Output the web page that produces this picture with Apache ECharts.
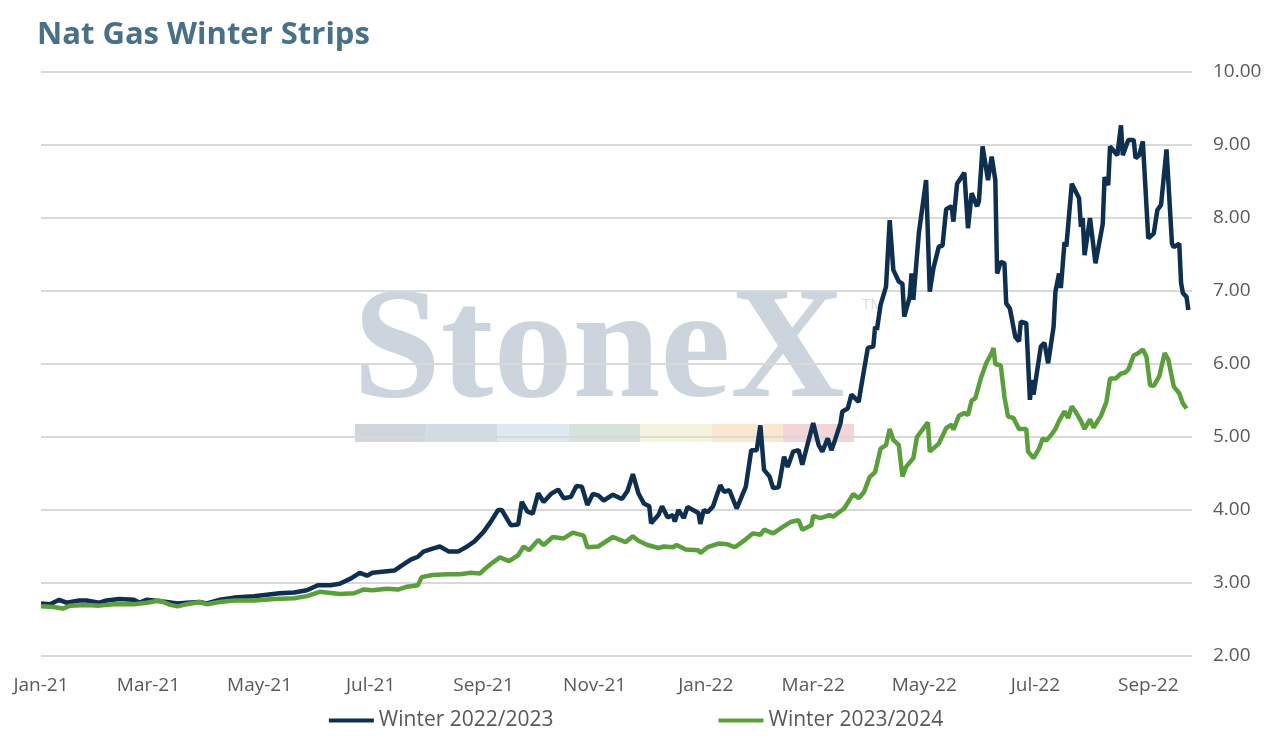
<!DOCTYPE html>
<html>
<head>
<meta charset="utf-8">
<title>Nat Gas Winter Strips</title>
<script src="https://cdn.jsdelivr.net/npm/echarts@6/dist/echarts.min.js"></script>
<style>
  html, body { margin: 0; padding: 0; background: #fff; }
  #chart { width: 1272px; height: 744px; }
</style>
</head>
<body>
<div id="chart"></div>
<script>
// Winter 2022/2023 strip
var w2223Dates = [
  '2021-01-01','2021-01-06','2021-01-11','2021-01-15','2021-01-22','2021-01-26','2021-02-02','2021-02-06','2021-02-13','2021-02-21',
  '2021-02-24','2021-02-28','2021-03-04','2021-03-11','2021-03-17','2021-03-22','2021-03-29','2021-04-02','2021-04-09','2021-04-17',
  '2021-04-28','2021-05-05','2021-05-12','2021-05-20','2021-05-27','2021-06-02','2021-06-03','2021-06-09','2021-06-14','2021-06-20',
  '2021-06-25','2021-06-29','2021-07-02','2021-07-10','2021-07-14','2021-07-17','2021-07-23','2021-07-27','2021-07-30','2021-08-04',
  '2021-08-08','2021-08-13','2021-08-18','2021-08-23','2021-08-27','2021-09-01','2021-09-05','2021-09-09','2021-09-11','2021-09-16',
  '2021-09-20','2021-09-22','2021-09-25','2021-09-28','2021-10-01','2021-10-04','2021-10-08','2021-10-12','2021-10-15','2021-10-19',
  '2021-10-22','2021-10-25','2021-10-28','2021-10-31','2021-11-03','2021-11-06','2021-11-11','2021-11-16','2021-11-19','2021-11-22',
  '2021-11-25','2021-11-28','2021-12-01','2021-12-02','2021-12-06','2021-12-08','2021-12-11','2021-12-14','2021-12-15','2021-12-17',
  '2021-12-20','2021-12-22','2021-12-25','2021-12-28','2021-12-29','2021-12-31','2022-01-02','2022-01-05','2022-01-09','2022-01-11',
  '2022-01-14','2022-01-18','2022-01-23','2022-01-26','2022-01-29','2022-01-31','2022-02-02','2022-02-05','2022-02-07','2022-02-10',
  '2022-02-13','2022-02-15','2022-02-18','2022-02-21','2022-02-23','2022-02-26','2022-03-01','2022-03-04','2022-03-06','2022-03-09',
  '2022-03-11','2022-03-13','2022-03-16','2022-03-17','2022-03-20','2022-03-22','2022-03-26','2022-03-27','2022-03-31','2022-04-03',
  '2022-04-04','2022-04-05','2022-04-07','2022-04-10','2022-04-12','2022-04-14','2022-04-17','2022-04-19','2022-04-20','2022-04-23',
  '2022-04-24','2022-04-25','2022-04-28','2022-05-02','2022-05-04','2022-05-06','2022-05-09','2022-05-11','2022-05-13','2022-05-16',
  '2022-05-17','2022-05-19','2022-05-23','2022-05-25','2022-05-27','2022-05-30','2022-05-31','2022-06-02','2022-06-05','2022-06-07',
  '2022-06-09','2022-06-10','2022-06-12','2022-06-14','2022-06-15','2022-06-17','2022-06-20','2022-06-22','2022-06-23','2022-06-26',
  '2022-06-28','2022-06-29','2022-06-30','2022-07-04','2022-07-06','2022-07-08','2022-07-11','2022-07-12','2022-07-14','2022-07-15',
  '2022-07-17','2022-07-18','2022-07-21','2022-07-25','2022-07-26','2022-07-27','2022-07-28','2022-07-31','2022-08-03','2022-08-07',
  '2022-08-08','2022-08-10','2022-08-11','2022-08-15','2022-08-17','2022-08-18','2022-08-21','2022-08-24','2022-08-25','2022-08-27',
  '2022-08-29','2022-09-01','2022-09-04','2022-09-06','2022-09-08','2022-09-11','2022-09-14','2022-09-15','2022-09-18','2022-09-19',
  '2022-09-20','2022-09-22','2022-09-23'
];
var w2223Values = [
  2.72,2.71,2.77,2.73,2.76,2.76,2.73,2.76,2.78,2.77,
  2.73,2.77,2.76,2.74,2.72,2.73,2.74,2.72,2.77,2.80,
  2.82,2.84,2.86,2.87,2.90,2.97,2.99,2.97,2.99,3.06,
  3.14,3.10,3.14,3.16,3.17,3.22,3.32,3.36,3.43,3.47,
  3.50,3.43,3.43,3.50,3.57,3.70,3.84,4.00,4.00,3.79,
  3.80,4.11,3.98,3.95,4.23,4.11,4.22,4.28,4.16,4.18,
  4.33,4.32,4.07,4.22,4.20,4.13,4.21,4.15,4.26,4.49,
  4.23,4.09,4.05,3.82,3.93,4.05,3.90,3.93,3.84,4.00,
  3.89,4.04,4.00,3.96,3.81,4.00,3.97,4.05,4.34,4.25,
  4.27,4.02,4.32,4.82,4.82,5.16,4.55,4.46,4.30,4.31,
  4.73,4.59,4.80,4.82,4.62,4.91,5.19,4.89,4.80,4.98,
  4.82,4.96,5.19,5.35,5.39,5.58,5.48,5.64,6.22,6.24,
  6.51,6.47,6.81,7.06,7.97,7.29,7.13,7.10,6.65,6.92,
  7.24,6.88,7.79,8.52,6.99,7.31,7.61,7.62,8.12,8.16,
  7.95,8.47,8.62,7.86,8.34,8.16,8.23,8.98,8.52,8.84,
  8.52,7.24,7.40,7.38,6.83,6.76,6.37,6.31,6.58,6.56,
  5.51,5.78,5.58,6.24,6.29,6.01,6.51,6.99,7.24,7.04,
  7.67,7.61,8.47,8.27,7.88,8.00,7.49,8.00,7.38,7.92,
  8.56,8.45,8.98,8.86,9.27,8.86,9.07,9.07,8.82,8.86,
  9.05,7.72,7.79,8.11,8.18,8.94,7.65,7.60,7.65,7.11,
  6.97,6.92,6.74
];

// Winter 2023/2024 strip
var w2324Dates = [
  '2021-01-01','2021-01-08','2021-01-13','2021-01-17','2021-01-26','2021-02-02','2021-02-10','2021-02-21','2021-02-28','2021-03-07',
  '2021-03-13','2021-03-17','2021-03-22','2021-03-29','2021-04-02','2021-04-09','2021-04-17','2021-04-28','2021-05-09','2021-05-20',
  '2021-05-27','2021-06-03','2021-06-14','2021-06-22','2021-06-27','2021-07-02','2021-07-10','2021-07-16','2021-07-21','2021-07-27',
  '2021-07-29','2021-08-04','2021-08-12','2021-08-19','2021-08-25','2021-08-30','2021-09-03','2021-09-06','2021-09-10','2021-09-15',
  '2021-09-20','2021-09-23','2021-09-26','2021-10-01','2021-10-04','2021-10-09','2021-10-15','2021-10-20','2021-10-26','2021-10-28',
  '2021-11-03','2021-11-11','2021-11-18','2021-11-22','2021-11-25','2021-11-30','2021-12-06','2021-12-09','2021-12-14','2021-12-16',
  '2021-12-21','2021-12-28','2021-12-29','2022-01-02','2022-01-08','2022-01-13','2022-01-17','2022-01-22','2022-01-27','2022-01-31',
  '2022-02-02','2022-02-07','2022-02-13','2022-02-17','2022-02-21','2022-02-23','2022-02-28','2022-03-01','2022-03-05','2022-03-10',
  '2022-03-12','2022-03-18','2022-03-23','2022-03-26','2022-03-29','2022-03-30','2022-04-01','2022-04-04','2022-04-07','2022-04-10',
  '2022-04-12','2022-04-14','2022-04-17','2022-04-19','2022-04-21','2022-04-25','2022-04-27','2022-04-30','2022-05-03','2022-05-04',
  '2022-05-09','2022-05-10','2022-05-13','2022-05-16','2022-05-17','2022-05-20','2022-05-23','2022-05-25','2022-05-27','2022-05-29',
  '2022-06-01','2022-06-04','2022-06-07','2022-06-08','2022-06-09','2022-06-12','2022-06-14','2022-06-16','2022-06-19','2022-06-20',
  '2022-06-22','2022-06-26','2022-06-27','2022-06-30','2022-07-03','2022-07-05','2022-07-07','2022-07-10','2022-07-12','2022-07-14',
  '2022-07-17','2022-07-19','2022-07-21','2022-07-23','2022-07-26','2022-07-28','2022-07-31','2022-08-02','2022-08-06','2022-08-09',
  '2022-08-11','2022-08-14','2022-08-17','2022-08-19','2022-08-21','2022-08-24','2022-08-26','2022-08-29','2022-08-31','2022-09-02',
  '2022-09-04','2022-09-07','2022-09-10','2022-09-12','2022-09-15','2022-09-18','2022-09-20','2022-09-22'
];
var w2324Values = [
  2.68,2.67,2.65,2.69,2.70,2.69,2.71,2.71,2.73,2.76,
  2.70,2.68,2.71,2.74,2.71,2.74,2.76,2.76,2.78,2.79,
  2.82,2.88,2.85,2.86,2.91,2.90,2.92,2.91,2.95,2.97,
  3.08,3.11,3.12,3.12,3.14,3.13,3.22,3.28,3.35,3.30,
  3.38,3.50,3.45,3.59,3.52,3.63,3.61,3.69,3.65,3.49,
  3.50,3.63,3.56,3.64,3.58,3.52,3.48,3.50,3.49,3.52,
  3.46,3.45,3.41,3.49,3.54,3.53,3.49,3.58,3.68,3.66,
  3.73,3.68,3.78,3.84,3.86,3.73,3.79,3.92,3.89,3.93,
  3.91,4.02,4.22,4.16,4.25,4.32,4.45,4.52,4.84,4.89,
  5.11,4.96,4.89,4.46,4.59,4.71,5.00,5.10,5.20,4.80,
  4.91,4.93,5.12,5.17,5.10,5.29,5.33,5.30,5.50,5.53,
  5.80,6.01,6.15,6.22,6.00,5.98,5.55,5.28,5.26,5.21,
  5.11,5.11,4.80,4.71,4.84,4.98,4.95,5.04,5.11,5.22,
  5.35,5.26,5.42,5.35,5.22,5.11,5.24,5.13,5.29,5.48,
  5.80,5.80,5.87,5.88,5.92,6.12,6.14,6.20,6.10,5.71,
  5.70,5.83,6.15,6.06,5.69,5.60,5.46,5.39
];

// x axis labels every two months
var tickDates = ['2021-01-01','2021-03-01','2021-05-01','2021-07-01','2021-09-01','2021-11-01',
                 '2022-01-01','2022-03-01','2022-05-01','2022-07-01','2022-09-01'];
var monthNames = ['Jan','Feb','Mar','Apr','May','Jun','Jul','Aug','Sep','Oct','Nov','Dec'];

// watermark band colours
var bandColors = ['#cfd6de','#d1dbe6','#dde9f2','#d6e3da','#f6f3dc','#f9e7d1','#f2d6d7'];

function toTime(s) {
    var p = s.split('-');
    return new Date(+p[0], +p[1] - 1, +p[2]).getTime();
}
function pairs(dates, values) {
    return dates.map(function (d, i) { return [toTime(d), values[i]]; });
}

var labelFont = '"Open Sans", sans-serif';
var graphics = [{
    type: 'text', left: 353, top: 276, z: -10,
    style: { text: 'StoneX', font: 'bold 158px "Liberation Serif", serif', fill: '#ccd4dd' }
}, {
    type: 'text', left: 862, top: 297, z: -10,
    style: { text: 'TM', font: '15px "Open Sans", sans-serif', fill: '#d3dae2' }
}];
bandColors.forEach(function (c, i) {
    graphics.push({
        type: 'rect', left: 355 + i * 71.3, top: 424, z: -10,
        shape: { width: 71.3, height: 18 },
        style: { fill: c }
    });
});

var chart = echarts.init(document.getElementById('chart'));
chart.setOption({
    animation: false,
    backgroundColor: '#ffffff',
    title: {
        text: 'Nat Gas Winter Strips',
        left: 32, top: 15,
        textStyle: { color: '#487089', fontSize: 31, fontWeight: 'bold', fontFamily: labelFont }
    },
    legend: {
        bottom: 8,
        left: 'center',
        icon: 'rect',
        itemWidth: 45,
        itemHeight: 4,
        itemGap: 165,
        textStyle: { color: '#595959', fontSize: 21, fontFamily: labelFont },
        data: ['Winter 2022/2023', 'Winter 2023/2024']
    },
    graphic: graphics,
    grid: { left: 41, right: 80, top: 72, bottom: 88 },
    // dates as timestamps on a plain value axis, labels only at month starts
    xAxis: {
        type: 'value',
        min: toTime('2021-01-01'),
        max: toTime('2022-09-25'),
        axisLine: { show: false },
        axisTick: { show: false },
        splitLine: { show: false },
        axisLabel: {
            customValues: tickDates.map(toTime),
            margin: 20,
            color: '#595959',
            fontSize: 19,
            fontFamily: labelFont,
            formatter: function (val) {
                var d = new Date(val);
                return monthNames[d.getMonth()] + '-' + String(d.getFullYear()).slice(2);
            }
        }
    },
    yAxis: {
        type: 'value',
        position: 'right',
        min: 2, max: 10, interval: 1,
        axisLine: { show: false },
        axisTick: { show: false },
        splitLine: { lineStyle: { color: '#d9d9d9', width: 2 } },
        axisLabel: {
            margin: 21,
            color: '#595959',
            fontSize: 19,
            fontFamily: labelFont,
            formatter: function (v) { return v.toFixed(2); }
        }
    },
    series: [{
        name: 'Winter 2022/2023',
        type: 'line',
        showSymbol: false,
        color: '#0e2f50',
        lineStyle: { width: 4.5, color: '#0e2f50' },
        data: pairs(w2223Dates, w2223Values)
    }, {
        name: 'Winter 2023/2024',
        type: 'line',
        showSymbol: false,
        color: '#5b9e3c',
        lineStyle: { width: 4.5, color: '#5b9e3c' },
        data: pairs(w2324Dates, w2324Values)
    }]
});
</script>
</body>
</html>
